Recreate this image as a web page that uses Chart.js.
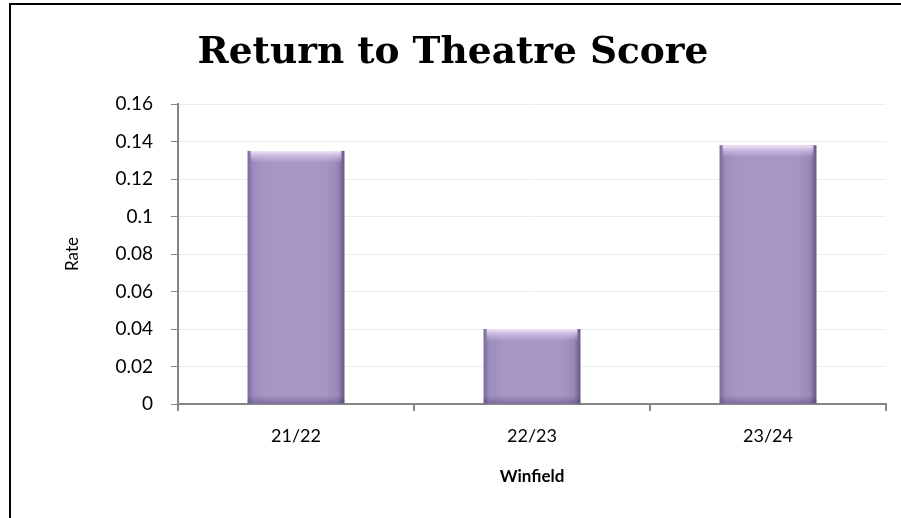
<!DOCTYPE html>
<html>
<head>
<meta charset="utf-8">
<script src="https://cdn.jsdelivr.net/npm/chart.js@4.4.1/dist/chart.umd.min.js"></script>
<style>
  html, body { margin: 0; padding: 0; background: #fff; }
  #wrap { position: relative; width: 901px; height: 518px; }
  #frame {
    position: absolute; left: 9px; top: 3px; width: 900px; height: 520px;
    border-top: 2px solid #000; border-left: 2px solid #000; box-sizing: border-box;
  }
  canvas { position: absolute; left: 0; top: 0; }
</style>
</head>
<body>
<div id="wrap">
  <div id="frame"></div>
  <canvas id="rtsChart" width="901" height="518"></canvas>
</div>
<script>
// Return to Theatre rate per year
const seasons = ['21/22', '22/23', '23/24'];
const rates = [0.135, 0.040, 0.138];
const yTicks = [0, 0.02, 0.04, 0.06, 0.08, 0.1, 0.12, 0.14, 0.16];

const labelFont = "'Lato', 'Open Sans', sans-serif";

// Shading on top of each bar: dark side edges, light top rim, darker base
const barShading = {
  id: 'barShading',
  afterDatasetsDraw(chart) {
    const ctx = chart.ctx;
    chart.getDatasetMeta(0).data.forEach(bar => {
      const left = bar.x - bar.width / 2;
      const right = bar.x + bar.width / 2;
      const top = bar.y;
      const bottom = bar.base;
      const h = bottom - top;
      ctx.save();

      // horizontal edge darkening
      const side = ctx.createLinearGradient(left, 0, right, 0);
      side.addColorStop(0, 'rgba(80,60,110,0.5)');
      side.addColorStop(0.06, 'rgba(80,60,110,0.1)');
      side.addColorStop(0.2, 'rgba(80,60,110,0)');
      side.addColorStop(0.8, 'rgba(80,60,110,0)');
      side.addColorStop(0.93, 'rgba(80,60,110,0.15)');
      side.addColorStop(1, 'rgba(60,45,90,0.6)');
      ctx.fillStyle = side;
      ctx.fillRect(left, top, bar.width, h);

      // light rim along the top
      const rimH = Math.min(12, h * 0.3);
      const rim = ctx.createLinearGradient(0, top, 0, top + rimH);
      rim.addColorStop(0, 'rgba(250,236,250,0.95)');
      rim.addColorStop(0.35, 'rgba(232,214,244,0.65)');
      rim.addColorStop(1, 'rgba(220,205,238,0)');
      ctx.fillStyle = rim;
      ctx.fillRect(left + 3, top, bar.width - 6, rimH);

      // darker base
      const baseH = Math.min(8, h * 0.2);
      const foot = ctx.createLinearGradient(0, bottom - baseH, 0, bottom);
      foot.addColorStop(0, 'rgba(70,55,100,0)');
      foot.addColorStop(1, 'rgba(70,55,100,0.4)');
      ctx.fillStyle = foot;
      ctx.fillRect(left, bottom - baseH, bar.width, baseH);

      ctx.restore();
    });
  }
};

new Chart(document.getElementById('rtsChart'), {
  type: 'bar',
  data: {
    labels: seasons,
    datasets: [{
      label: 'Rate',
      data: rates,
      backgroundColor: '#a596c6',
      borderWidth: 0,
      categoryPercentage: 1,
      barPercentage: 0.41
    }]
  },
  options: {
    responsive: false,
    animation: false,
    layout: { padding: { left: 20, right: 15, top: 31, bottom: 27 } },
    plugins: {
      legend: { display: false },
      tooltip: { enabled: false },
      title: {
        display: true,
        text: 'Return to Theatre Score',
        color: '#000',
        font: { family: "'DejaVu Serif', serif", size: 37.5, weight: 'bold' },
        padding: { top: 0, bottom: 28 }
      }
    },
    scales: {
      x: {
        grid: {
          offset: true,
          drawOnChartArea: false,
          color: '#868686',
          tickLength: 7,
          lineWidth: 2
        },
        border: { color: '#868686', width: 2 },
        ticks: { color: '#000', font: { family: labelFont, size: 18 }, padding: 14 },
        title: {
          display: true,
          text: 'Winfield',
          color: '#000',
          font: { family: labelFont, size: 17, weight: 'bold' },
          padding: { top: 6 }
        }
      },
      y: {
        min: 0,
        max: 0.16,
        afterBuildTicks(scale) {
          scale.ticks = yTicks.map(v => ({ value: v }));
        },
        afterFit(scale) {
          scale.width = 158;
        },
        grid: {
          color: '#ececec',
          tickColor: '#868686',
          tickLength: 7,
          lineWidth: 1
        },
        border: { color: '#868686', width: 2 },
        ticks: {
          color: '#000',
          font: { family: labelFont, size: 19 },
          padding: 18,
          callback: v => String(Math.round(v * 100) / 100)
        },
        title: {
          display: true,
          text: 'Rate',
          color: '#000',
          font: { family: labelFont, size: 17 },
          padding: { top: 42, bottom: 0 }
        }
      }
    }
  },
  plugins: [barShading]
});
</script>
</body>
</html>
